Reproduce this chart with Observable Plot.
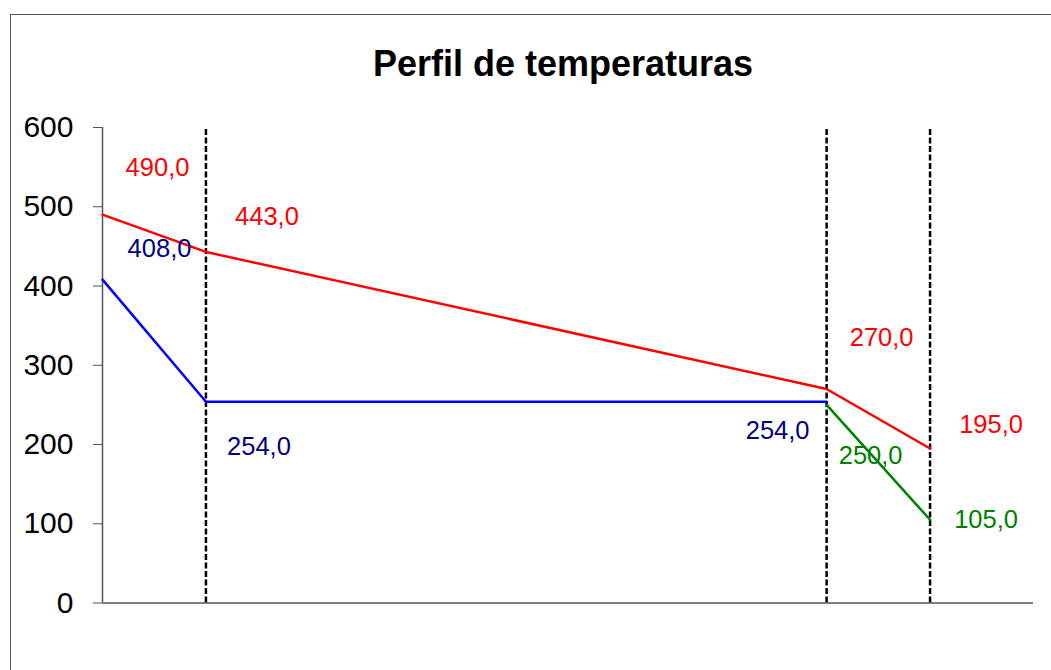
<!DOCTYPE html>
<html>
<head>
<meta charset="utf-8">
<script src="https://cdn.jsdelivr.net/npm/d3@7"></script>
<script src="https://cdn.jsdelivr.net/npm/@observablehq/plot@0.6"></script>
<style>
  html, body { margin: 0; padding: 0; background: #fff; }
  #wrap { position: relative; width: 1051px; height: 670px; overflow: hidden; font-family: "Liberation Sans", Arial, sans-serif; }
  #frame { position: absolute; left: 10px; top: 14px; width: 1100px; height: 700px; border-left: 1.5px solid #555; border-top: 1.5px solid #555; box-sizing: border-box; }
  #title { position: absolute; left: 0; width: 1126px; top: 46px; text-align: center; font-weight: bold; font-size: 36px; line-height: 36px; color: #000; }
  #chart { position: absolute; left: 0; top: 0; }
</style>
</head>
<body>
<div id="wrap">
  <div id="frame"></div>
  <div id="chart"></div>
  <div id="title">Perfil de temperaturas</div>
</div>
<script>
// Interface positions (relative) along the wall
const positions = [0, 1, 7, 8];
// Series values
const hotSide = [490, 443, 270, 195];      // red
const coldSide = [408, 254, 254];          // blue (positions 0,1,7)
const coolant = [250, 105];                // green (positions 7,8)
// Interfaces marked with dashed lines
const interfaces = [1, 7, 8];
// Y tick labels
const yTicks = [0, 100, 200, 300, 400, 500, 600];

const redData = positions.map((p, i) => ({x: p, y: hotSide[i]}));
const blueData = coldSide.map((v, i) => ({x: positions[i], y: v}));
const greenData = coolant.map((v, i) => ({x: positions[i + 2], y: v}));

// label offsets (styling)
const redOff = [[55, -47], [61, -35], [55, -51], [61, -24]];
const blueOff = [[57, -31], [53, 45], [-49, 29]];
const greenOff = [[44, 51], [56, 0]];

const fmt = v => v.toFixed(1).replace(".", ",");

function labels(data, offs, color) {
  return data.map((d, i) => Plot.text([d], {
    x: "x", y: "y", text: d => fmt(d.y),
    dx: offs[i][0], dy: offs[i][1],
    fill: color, fontSize: 25.5, textAnchor: "middle", lineAnchor: "middle"
  }));
}

const chart = Plot.plot({
  width: 1051,
  height: 670,
  marginTop: 127,
  marginBottom: 67.5,
  marginLeft: 102,
  marginRight: 18,
  style: {fontFamily: "'Liberation Sans', Arial, sans-serif", background: "transparent", overflow: "visible"},
  x: {domain: [0, 9], axis: null},
  y: {domain: [0, 600], axis: null},
  marks: [
    Plot.ruleX(interfaces, {y1: 0, y2: 600, stroke: "#000", strokeWidth: 2.5, strokeDasharray: "6,2.5"}),
    Plot.ruleY([0], {stroke: "#555", strokeWidth: 1.5}),
    Plot.ruleX([0], {stroke: "#555", strokeWidth: 1.5}),
    Plot.axisY({ticks: yTicks, tickSize: 9, stroke: "#555", text: null, label: null}),
    Plot.text(yTicks, {y: d => d, text: d => String(d), frameAnchor: "left", dx: -29, textAnchor: "end", lineAnchor: "middle", fontSize: 30, fill: "#000"}),
    Plot.line(redData, {x: "x", y: "y", stroke: "#ff0000", strokeWidth: 2.5}),
    Plot.line(blueData, {x: "x", y: "y", stroke: "#0000ff", strokeWidth: 2.5}),
    Plot.line(greenData, {x: "x", y: "y", stroke: "#008000", strokeWidth: 2.5}),
    ...labels(redData, redOff, "#ff0000"),
    ...labels(blueData, blueOff, "#000080"),
    ...labels(greenData, greenOff, "#008000")
  ]
});
document.getElementById("chart").appendChild(chart);
</script>
</body>
</html>
